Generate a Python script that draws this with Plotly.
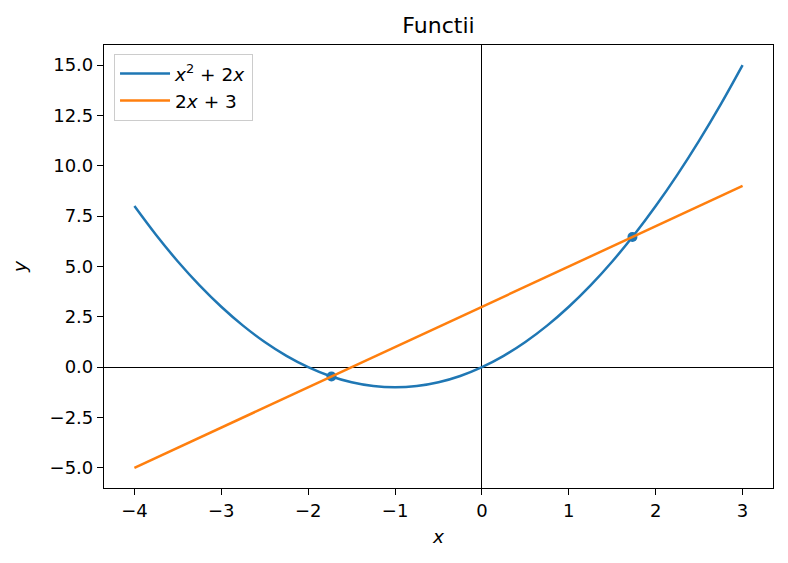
import plotly.graph_objects as go

# Parabola x^2 + 2x
curve_x = [-4, -3.75, -3.5, -3.25, -3, -2.75, -2.5, -2.25, -2, -1.75, -1.5, -1.25, -1,
           -0.75, -0.5, -0.25, 0, 0.25, 0.5, 0.75, 1, 1.25, 1.5, 1.75, 2, 2.25, 2.5, 2.75, 3]
curve_y = [8, 6.5625, 5.25, 4.0625, 3, 2.0625, 1.25, 0.5625, 0, -0.4375, -0.75, -0.9375, -1,
           -0.9375, -0.75, -0.4375, 0, 0.5625, 1.25, 2.0625, 3, 4.0625, 5.25, 6.5625, 8,
           9.5625, 11.25, 13.0625, 15]

# Line 2x + 3
line_x = [-4, 3]
line_y = [-5, 9]

# Intersection points
pts_x = [-1.732, 1.732]
pts_y = [-0.464, 6.464]

xticks = [-4, -3, -2, -1, 0, 1, 2, 3]
yticks = [-5.0, -2.5, 0.0, 2.5, 5.0, 7.5, 10.0, 12.5, 15.0]

BLUE = "#1f77b4"
ORANGE = "#ff7f0e"
FONT = "DejaVu Sans"

# page body has an 8px offset; figure sized to fit the 788x563 window
W, H = 780, 555

fig = go.Figure()
fig.add_trace(go.Scatter(x=pts_x, y=pts_y, mode="markers",
                         marker=dict(color=BLUE, size=10), showlegend=False))
fig.add_trace(go.Scatter(x=curve_x, y=curve_y, mode="lines", line_shape="spline",
                         line=dict(color=BLUE, width=2.5),
                         name="<i>x</i><sup>2</sup> + 2<i>x</i>"))
fig.add_trace(go.Scatter(x=line_x, y=line_y, mode="lines",
                         line=dict(color=ORANGE, width=2.5),
                         name="2<i>x</i> + 3"))

axis_common = dict(showline=True, mirror=True, linecolor="black", linewidth=1.2,
                   ticks="outside", ticklen=6, tickwidth=1.2, tickcolor="black",
                   showgrid=False, zeroline=True, zerolinecolor="black", zerolinewidth=1.2,
                   automargin=False,
                   tickfont=dict(family=FONT, size=18, color="black"))

fig.update_layout(
    width=W, height=H,
    margin=dict(l=96, r=15, t=37, b=75),
    paper_bgcolor="white", plot_bgcolor="white",
    title=dict(text="Functii", x=(96 + (W - 15)) / 2 / W, xanchor="center",
               y=1 - 17 / H, yanchor="middle",
               font=dict(family=FONT, size=22, color="black")),
    xaxis=dict(range=[-4.35, 3.35], tickvals=xticks,
               title=dict(text="<i>x</i>", font=dict(family=FONT, size=18.5, color="black"),
                          standoff=10),
               **axis_common),
    yaxis=dict(range=[-6, 16], tickvals=yticks, tickformat=".1f",
               title=dict(text="<i>y</i>", font=dict(family=FONT, size=18.5, color="black"),
                          standoff=18),
               **axis_common),
    legend=dict(x=0.015, y=0.98, xanchor="left", yanchor="top", itemwidth=50,
                bgcolor="rgba(255,255,255,0.8)", bordercolor="#cccccc", borderwidth=1,
                font=dict(family=FONT, size=18.5, color="black")),
)

fig.write_html("out.html")
